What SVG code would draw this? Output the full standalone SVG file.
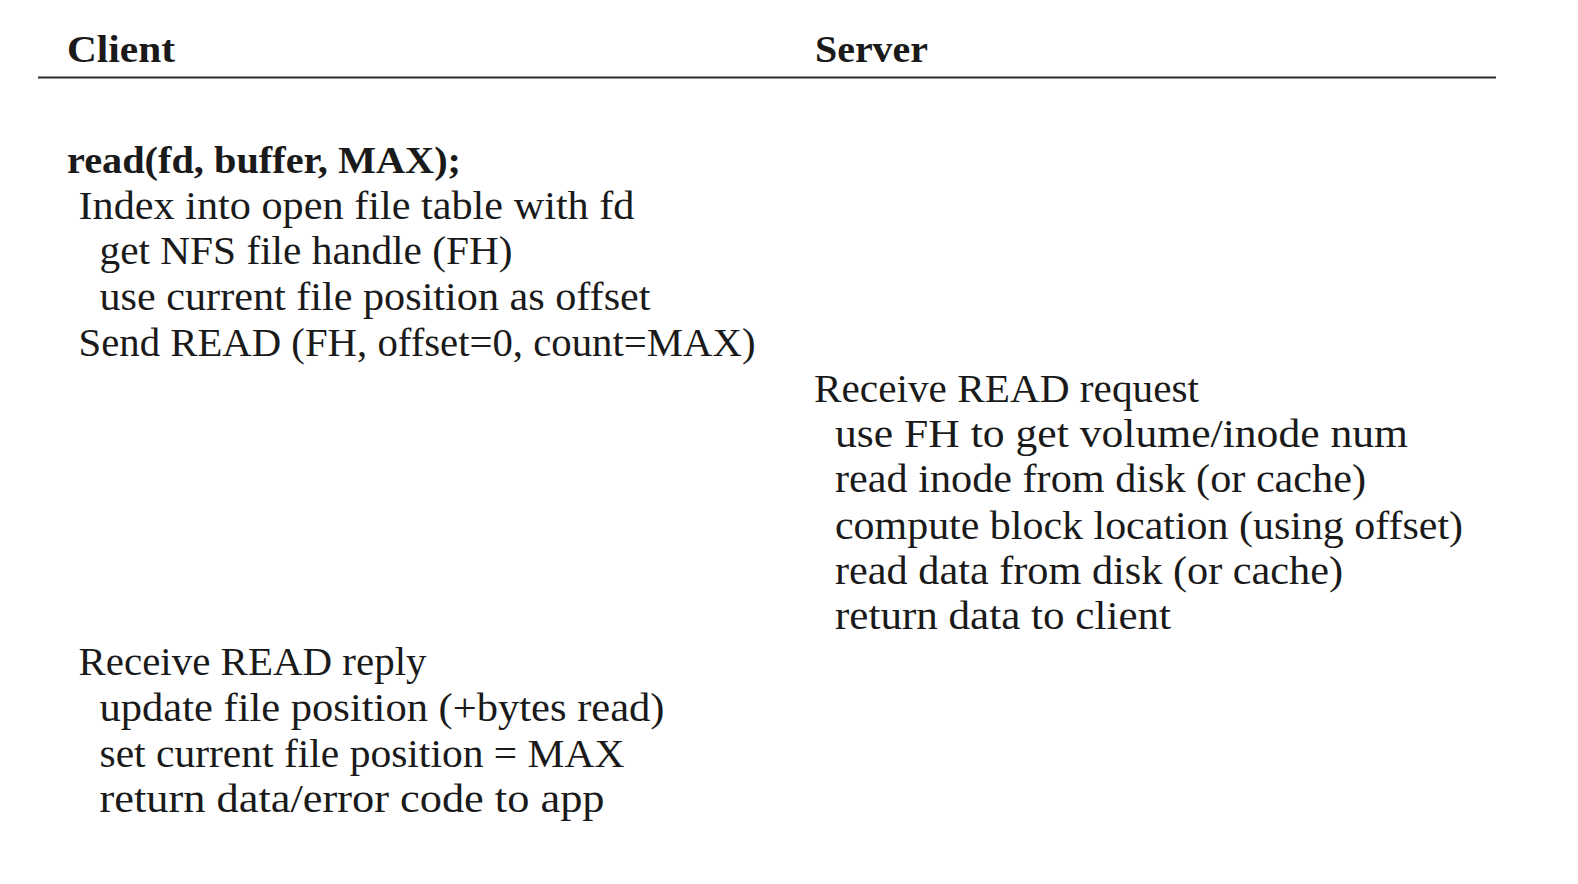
<svg xmlns="http://www.w3.org/2000/svg" width="1578" height="884" viewBox="0 0 1578 884">
<style>
text{font-family:"Liberation Serif","DejaVu Serif",serif;fill:#1a1a1a;font-size:39px}
.b{font-weight:bold;font-size:38px}
</style>
<rect width="1578" height="884" fill="#ffffff"/>
<g id="header">
<text class="b" x="67" y="62" textLength="108" lengthAdjust="spacingAndGlyphs">Client</text>
<text class="b" x="815" y="62" textLength="113" lengthAdjust="spacingAndGlyphs">Server</text>
<line x1="38" y1="77.5" x2="1496" y2="77.5" stroke="#2a2a2a" stroke-width="2"/>
</g>
<g id="client-request">
<text class="b" x="67" y="173" textLength="394" lengthAdjust="spacingAndGlyphs">read(fd, buffer, MAX);</text>
<text x="78.5" y="219" textLength="556" lengthAdjust="spacingAndGlyphs">Index into open file table with fd</text>
<text x="99.5" y="264" textLength="413" lengthAdjust="spacingAndGlyphs">get NFS file handle (FH)</text>
<text x="99.5" y="310" textLength="551" lengthAdjust="spacingAndGlyphs">use current file position as offset</text>
<text x="78.5" y="356" textLength="677" lengthAdjust="spacingAndGlyphs">Send READ (FH, offset=0, count=MAX)</text>
</g>
<g id="server">
<text x="814" y="402" textLength="385" lengthAdjust="spacingAndGlyphs">Receive READ request</text>
<text x="835" y="447" textLength="573" lengthAdjust="spacingAndGlyphs">use FH to get volume/inode num</text>
<text x="835" y="492" textLength="531" lengthAdjust="spacingAndGlyphs">read inode from disk (or cache)</text>
<text x="835" y="539" textLength="628" lengthAdjust="spacingAndGlyphs">compute block location (using offset)</text>
<text x="835" y="584" textLength="508" lengthAdjust="spacingAndGlyphs">read data from disk (or cache)</text>
<text x="835" y="629" textLength="336" lengthAdjust="spacingAndGlyphs">return data to client</text>
</g>
<g id="client-reply">
<text x="78.5" y="675" textLength="348" lengthAdjust="spacingAndGlyphs">Receive READ reply</text>
<text x="99.5" y="721" textLength="565" lengthAdjust="spacingAndGlyphs">update file position (+bytes read)</text>
<text x="99.5" y="767" textLength="525" lengthAdjust="spacingAndGlyphs">set current file position = MAX</text>
<text x="99.5" y="812" textLength="505" lengthAdjust="spacingAndGlyphs">return data/error code to app</text>
</g>
<g id="connectors"></g>
</svg>
